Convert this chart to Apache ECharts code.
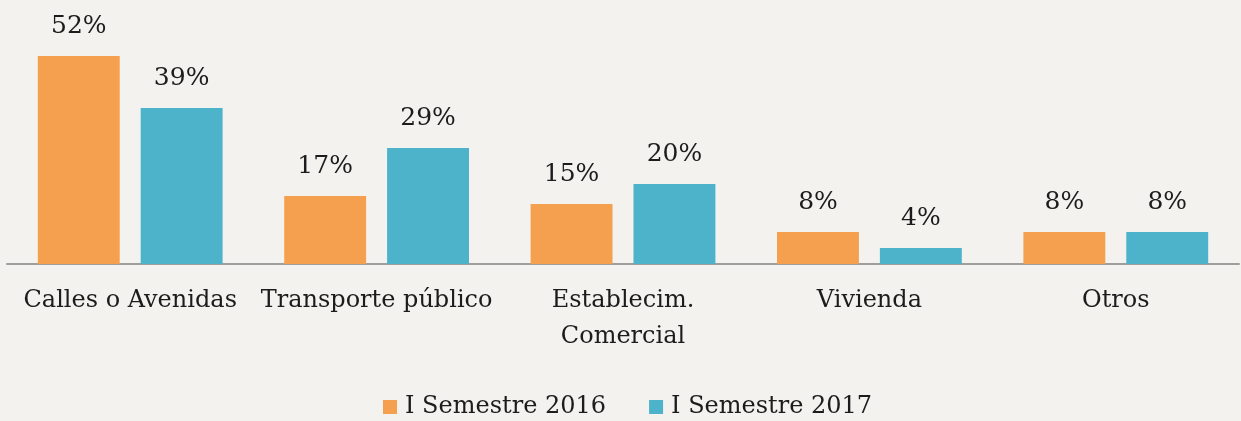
<!DOCTYPE html>
<html>
<head>
<meta charset="utf-8">
<script src="https://cdn.jsdelivr.net/npm/echarts@6/dist/echarts.min.js"></script>
<style>
html, body { margin: 0; padding: 0; background: #f3f2ef; }
#chart { width: 1241px; height: 421px; }
</style>
</head>
<body>
<div id="chart"></div>
<script>
var categories = ['Calles o Avenidas', 'Transporte público', 'Establecim.\nComercial', 'Vivienda', 'Otros']
var legendNames = ['I Semestre 2016', 'I Semestre 2017']
var values2016 = [52, 17, 15, 8, 8]
var values2017 = [39, 29, 20, 4, 8]

var fontFamily = '"DejaVu Serif", serif'
var textColor = '#1c1c1c'

function barSeries(name, data, color) {
    return {
        name: name,
        type: 'bar',
        data: data,
        barGap: '25.6%',
        barCategoryGap: '25%',
        itemStyle: { color: color },
        label: {
            show: true,
            position: 'top',
            distance: 17,
            formatter: '{c}%',
            fontFamily: fontFamily,
            fontSize: 25,
            color: textColor
        }
    }
}

var chart = echarts.init(document.getElementById('chart'))
chart.setOption({
    backgroundColor: '#f3f2ef',
    animation: false,
    legend: {
        data: legendNames,
        bottom: -3,
        left: 378,
        icon: 'rect',
        itemWidth: 14,
        itemHeight: 14,
        itemGap: 43,
        textStyle: { fontFamily: fontFamily, fontSize: 24, color: textColor, padding: [0, 0, 0, 3] }
    },
    grid: { left: 7, right: 2, top: 24, bottom: 157, containLabel: false },
    xAxis: {
        type: 'category',
        data: categories,
        axisLine: { lineStyle: { color: '#9e9e9e', width: 2 } },
        axisTick: { show: false },
        axisLabel: {
            interval: 0,
            margin: 19,
            fontFamily: fontFamily,
            fontSize: 24,
            lineHeight: 36,
            color: textColor
        }
    },
    yAxis: {
        type: 'value',
        min: 0,
        max: 60,
        show: false,
        splitLine: { show: false }
    },
    series: [
        barSeries(legendNames[0], values2016, '#f5a04e'),
        barSeries(legendNames[1], values2017, '#4db3cb')
    ]
})
</script>
</body>
</html>
